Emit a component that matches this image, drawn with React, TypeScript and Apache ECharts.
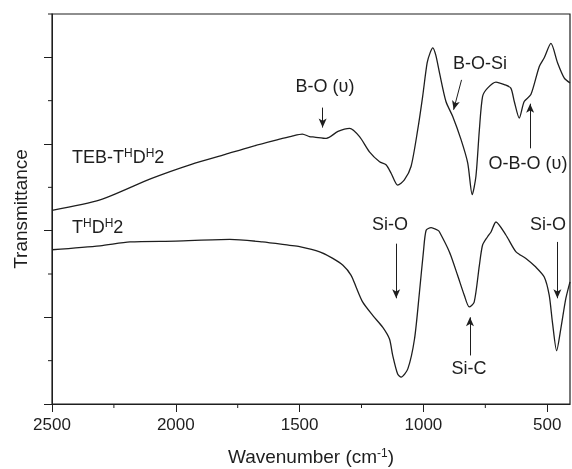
import React, { useEffect, useRef } from "react";
import * as echarts from "echarts";

// TEB-THDH2 (upper trace): wavenumber (cm-1), transmittance (a.u.)
const tebWavenumber = [2500, 2306, 2100, 1937, 1800, 1700, 1581, 1527, 1489, 1460, 1440, 1392, 1345, 1298, 1258, 1218, 1177, 1151, 1130, 1104, 1077, 1050, 1023, 1003, 985, 972, 962, 950, 935, 909, 882, 848, 821, 803, 788, 774, 761, 741, 707, 673, 647, 633, 613, 593, 566, 532, 512, 485, 458, 431, 408];
const tebTransmittance = [4.47, 4.71, 5.2, 5.53, 5.76, 5.93, 6.11, 6.19, 6.23, 6.17, 6.16, 6.13, 6.29, 6.36, 6.17, 5.82, 5.59, 5.52, 5.32, 5.05, 5.17, 5.48, 6.33, 7.1, 7.87, 8.12, 8.22, 8.05, 7.64, 6.98, 6.64, 6.1, 5.56, 4.83, 5.25, 6.33, 7.1, 7.29, 7.43, 7.37, 7.29, 6.98, 6.6, 6.98, 7.14, 7.79, 7.99, 8.32, 7.87, 7.52, 7.41];

// THDH2 (lower trace)
const thdhWavenumber = [2500, 2306, 2185, 2000, 1782, 1650, 1540, 1500, 1419, 1366, 1325, 1292, 1272, 1245, 1204, 1164, 1137, 1124, 1104, 1090, 1063, 1036, 1016, 1000, 989, 969, 942, 935, 895, 862, 835, 815, 795, 774, 761, 741, 727, 707, 667, 626, 586, 546, 512, 492, 479, 462, 445, 425, 408];
const thdhTransmittance = [3.56, 3.65, 3.74, 3.76, 3.8, 3.74, 3.66, 3.63, 3.51, 3.36, 3.2, 2.97, 2.7, 2.35, 2.04, 1.77, 1.5, 1.12, 0.69, 0.62, 0.81, 1.5, 2.58, 3.51, 4.01, 4.07, 4.01, 3.97, 3.51, 2.97, 2.51, 2.24, 2.35, 3.2, 3.67, 3.86, 3.97, 4.2, 3.9, 3.51, 3.36, 3.16, 2.93, 2.51, 1.89, 1.23, 1.74, 2.43, 2.82];

// Axis ticks
const xMajorTicks = [2500, 2000, 1500, 1000, 500];
const xMinorTicks = [2250, 1750, 1250, 750];
const yMajorTicks = [0, 2, 4, 6, 8];
const yMinorTicks = [1, 3, 5, 7, 9];

// Annotation arrows: [fromWavenumber, fromT, toWavenumber, toT]
const tebArrows = [
  [1407, 6.84, 1407, 6.38],
  [846, 7.48, 878, 6.79],
  [569, 5.9, 569, 6.93],
];
const thdhArrows = [
  [1110, 3.7, 1110, 2.44],
  [812, 1.12, 812, 2.0],
  [459, 3.74, 459, 2.44],
];

const X_MIN = 408;
const X_MAX = 2500;
const Y_MIN = 0;
const Y_MAX = 9;

const INK = "#1e1e1e";
const FONT = "Arial, 'Liberation Sans', sans-serif";

const GRID_LEFT = 52;
const GRID_TOP = 14;
const GRID_RIGHT = 2;
const GRID_BOTTOM = 65;
const W = 572;
const H = 469;

function pairs(xs: number[], ys: number[]) {
  return xs.map((x, i) => [x, ys[i]]);
}

function arrowLines(list: number[][]) {
  return list.map((a) => [{ coord: [a[0], a[1]] }, { coord: [a[2], a[3]] }]);
}

export default function App() {
  const ref = useRef<HTMLDivElement>(null);
  useEffect(() => {
    document.body.style.margin = "0";
    const chart = echarts.init(ref.current!, null, { renderer: "svg" });
    const markLineBase = {
      silent: true,
      symbol: ["none", "arrow"],
      symbolSize: [6, 9],
      label: { show: false },
      lineStyle: { color: INK, width: 1, type: "solid" },
      emphasis: { disabled: true },
    };
    const textStyle = (x: number, y: number, text: string, align = "center") => ({
      type: "text",
      x,
      y,
      silent: true,
      style: {
        text,
        x: 0,
        y: 0,
        fill: INK,
        font: `18px ${FONT}`,
        fontSize: 18,
        fontFamily: FONT,
        align,
        textAlign: align,
        verticalAlign: "middle",
        textVerticalAlign: "middle",
        rich: {
          n: { fontSize: 18, fontFamily: FONT, fill: INK, color: INK },
          s: { fontSize: 12, fontFamily: FONT, fill: INK, color: INK, padding: [0, 0, 8, 0] },
        },
      },
    });
    const plotW = W - GRID_LEFT - GRID_RIGHT;
    const plotH = H - GRID_TOP - GRID_BOTTOM;
    chart.setOption({
      animation: false,
      grid: {
        left: GRID_LEFT,
        top: GRID_TOP,
        right: GRID_RIGHT,
        bottom: GRID_BOTTOM,
        outerBoundsMode: "none",
        containLabel: false,
      },
      xAxis: {
        type: "value",
        min: X_MIN,
        max: X_MAX,
        inverse: true,
        position: "bottom",
        name: "{n|Wavenumber (cm}{s|-1}{n|)}",
        nameLocation: "middle",
        nameGap: 43,
        nameTextStyle: {
          rich: {
            n: { fontSize: 19, lineHeight: 19, fontFamily: FONT, color: INK },
            s: { fontSize: 12, lineHeight: 12, fontFamily: FONT, color: INK, padding: [0, 0, 7, 0] },
          },
        },
        axisLine: { show: true, onZero: false, lineStyle: { color: INK, width: 1 } },
        axisTick: { show: true, inside: false, length: 8, customValues: xMajorTicks, lineStyle: { color: INK, width: 1 } },
        axisLabel: {
          show: true,
          customValues: xMajorTicks,
          margin: 12,
          fontSize: 17,
          fontFamily: FONT,
          color: INK,
          formatter: (v: number) => String(v),
        },
        splitLine: { show: false },
      },
      yAxis: {
        type: "value",
        min: Y_MIN,
        max: Y_MAX,
        position: "left",
        name: "Transmittance",
        nameLocation: "middle",
        nameGap: 22,
        nameTextStyle: { fontSize: 19, fontFamily: FONT, color: INK },
        axisLine: { show: true, onZero: false, lineStyle: { color: INK, width: 1 } },
        axisTick: { show: true, inside: false, length: 8, customValues: yMajorTicks, lineStyle: { color: INK, width: 1 } },
        axisLabel: { show: false },
        splitLine: { show: false },
      },
      series: [
        {
          name: "TEB-THDH2",
          type: "line",
          data: pairs(tebWavenumber, tebTransmittance),
          showSymbol: false,
          smooth: 0.25,
          lineStyle: { color: INK, width: 1.3 },
          silent: true,
          markLine: { ...markLineBase, data: arrowLines(tebArrows) },
        },
        {
          name: "THDH2",
          type: "line",
          data: pairs(thdhWavenumber, thdhTransmittance),
          showSymbol: false,
          smooth: 0.25,
          lineStyle: { color: INK, width: 1.3 },
          silent: true,
          markLine: { ...markLineBase, data: arrowLines(thdhArrows) },
        },
        {
          name: "xMinorTicks",
          type: "custom",
          silent: true,
          clip: false,
          z: 10,
          data: xMinorTicks.map((v) => [v, Y_MIN]),
          renderItem: (_params: any, api: any) => {
            const p = api.coord([api.value(0), api.value(1)]);
            return {
              type: "line",
              shape: { x1: p[0], y1: p[1], x2: p[0], y2: p[1] + 4 },
              style: { stroke: INK, lineWidth: 1 },
            };
          },
        },
        {
          name: "yMinorTicks",
          type: "custom",
          silent: true,
          clip: false,
          z: 10,
          data: yMinorTicks.map((v) => [X_MAX, v]),
          renderItem: (_params: any, api: any) => {
            const p = api.coord([api.value(0), api.value(1)]);
            return {
              type: "line",
              shape: { x1: p[0], y1: p[1], x2: p[0] - 4, y2: p[1] },
              style: { stroke: INK, lineWidth: 1 },
            };
          },
        },
      ],
      graphic: [
        {
          type: "rect",
          silent: true,
          z: 100,
          shape: { x: GRID_LEFT, y: GRID_TOP, width: plotW, height: plotH },
          style: { fill: "rgba(0,0,0,0)", stroke: INK, lineWidth: 1.2 },
        },
        textStyle(72, 157, "{n|TEB-T}{s|H}{n|D}{s|H}{n|2}", "left"),
        textStyle(72, 227, "{n|T}{s|H}{n|D}{s|H}{n|2}", "left"),
        textStyle(325, 86, "B-O (υ)"),
        textStyle(480, 63, "B-O-Si"),
        textStyle(528, 163, "O-B-O (υ)"),
        textStyle(390, 224, "Si-O"),
        textStyle(469, 368, "Si-C"),
        textStyle(548, 224, "Si-O"),
      ],
    });
    return () => chart.dispose();
  }, []);
  return <div ref={ref} style={{ position: "fixed", left: 0, top: 0, width: W, height: H }} />;
}
